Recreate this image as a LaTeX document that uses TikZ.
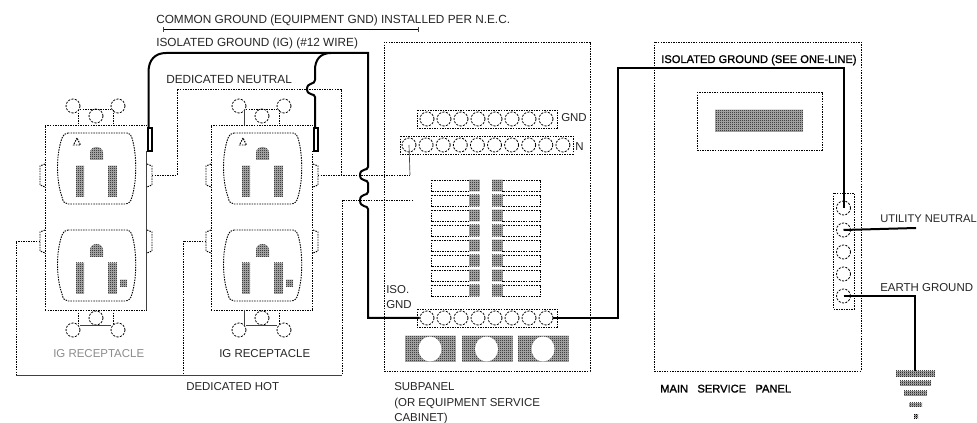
\documentclass[tikz,border=0pt]{standalone}
\usepackage{fontspec}
\setmainfont{Liberation Sans}
\newfontfamily\strongface[FakeBold=1.2]{Liberation Sans}
\usetikzlibrary{patterns}
\pgfdeclarepatternformonly{chk}{\pgfpointorigin}{\pgfqpoint{1.5pt}{1.5pt}}{\pgfqpoint{1.5pt}{1.5pt}}{%
  \pgfpathrectangle{\pgfpointorigin}{\pgfqpoint{.75pt}{.75pt}}%
  \pgfpathrectangle{\pgfqpoint{.75pt}{.75pt}}{\pgfqpoint{.75pt}{.75pt}}%
  \pgfusepath{fill}}
\tikzset{
  dot/.style={draw=black,line width=.7pt,dash pattern=on 1.1pt off .8pt},
  thin solid/.style={draw=black!75,line width=.5pt},
  wire/.style={draw=black,line width=1.5pt,line join=miter},
  hatch/.style={preaction={fill=black!28},pattern=chk,pattern color=black},
  lug/.style={circle,draw=black,line width=.6pt,dash pattern=on 1.6pt off 1pt,minimum size=10.5pt,inner sep=0pt,fill=white},
  sz/.style={font=\fontsize{#1}{10pt}\selectfont},
  lab/.style={anchor=base west,inner sep=0pt,sz=8.6pt,text=black!85},
  strong/.style={anchor=base west,inner sep=0pt,font=\strongface\fontsize{8.35pt}{10pt}\selectfont,text=black},
}
\newcommand{\faceoutline}{(68,133) -- (127,133) .. controls (130,133) and (131,135) .. (132,138) .. controls (137,155) and (137,180) .. (132,197) .. controls (131,202) and (128,204) .. (125,204) -- (68,204) .. controls (65,204) and (63,202) .. (62,197) .. controls (56,180) and (56,155) .. (62,138) .. controls (63,135) and (65,133) .. (68,133) -- cycle}
\newcommand{\faceholes}{%
  \fill[hatch] (90,160) -- (90,153) .. controls (90,145) and (103,145) .. (103,153) -- (103,160) -- cycle;
  \fill[hatch] (76,166) rectangle (84,197);
  \fill[hatch] (108,166) rectangle (117,197);
}
\newcommand{\recepbody}{%
  \draw[dot] (45,310) -- (45,125) -- (146.5,125);
  \draw[dot] (45,310) -- (146.5,310);
  \foreach \yy in {164,230} {
    \draw[dot] (45,\yy) -- (40,\yy+2) -- (40,\yy+21) -- (45,\yy+23);
    \draw[dot] (147,\yy) -- (152,\yy+2) -- (152,\yy+21) -- (147,\yy+23);
  }
  \draw[dot] \faceoutline;
  \faceholes
  \begin{scope}[yshift=-72.75pt]
    \draw[dot] \faceoutline;
    \faceholes
  \end{scope}
  \draw[dot] (77,138) -- (73.5,145) -- (80.5,145) -- cycle;
  \fill[hatch] (120,280) rectangle (127,287);
  \node[lug] at (73,106) {};
  \node[lug] at (118,106) {};
  \node[lug] at (96,116) {};
  \node[lug] at (73,330) {};
  \node[lug] at (118,330) {};
  \node[lug] at (96,318) {};
  \draw[dot] (80,109) -- (111,109);
  \draw[thin solid] (80,325) -- (111,325);
  \draw[dot] (113,110) -- (113,125);
  \draw[dot] (113,310) -- (113,325);
}
\begin{document}
\begin{tikzpicture}[x=.75pt,y=-.75pt]
\useasboundingbox (0,0) rectangle (977,423);
\fill[white] (0,0) rectangle (977,423);

% ---------- receptacles
\begin{scope}
  \recepbody
  \draw[dot] (78,110) -- (78,125);
  \draw[dot] (78,310) -- (78,325);
  \draw[thin solid] (146.5,151) -- (146.5,310);
\end{scope}
\begin{scope}[xshift=124.5pt]
  \recepbody
  \draw[thin solid] (78,110) -- (78,125);
  \draw[thin solid] (78,310) -- (78,325);
  \draw[dot] (146.5,151) -- (146.5,310);
\end{scope}

% ---------- subpanel
\draw[dot] (384,42) rectangle (590,371);
\draw[dot] (417,110) rectangle (557,128);
\draw[dot] (400,136) rectangle (573,154);
\draw[dot] (417,309) rectangle (557,327);
\foreach \i in {1,...,8} {
  \node[lug] (gnd\i) at ({427+17*(\i-1)},119) {};
  \node[lug] (iso\i) at ({427+17*(\i-1)},318) {};
}
\foreach \i in {1,...,10} {
  \node[lug] (neu\i) at ({409+17.1*(\i-1)},145) {};
}
\foreach \i in {0,...,7} {
  \pgfmathsetmacro{\yt}{180+15*\i}
  \pgfmathsetmacro{\yb}{\yt+11.5}
  \draw[dot] (431,\yt) rectangle (470,\yb);
  \fill[hatch] (469,\yt) rectangle (479.5,\yb);
  \draw[dot] (502,\yt) rectangle (540,\yb);
  \fill[hatch] (492,\yt) rectangle (502.5,\yb);
}
\foreach \xa/\xc in {405/430,462/486.5,518/543} {
  \fill[hatch] (\xa,336) rectangle (\xa+50.5,362);
  \fill[white] (\xc,349) ellipse[x radius=11.5,y radius=12.5];
}

% ---------- main service panel
\draw[dot] (654,42) rectangle (861,371);
\draw[dot] (697,92) rectangle (822,150);
\fill[hatch] (715,110) rectangle (803,132);
\draw[dot] (833,193) rectangle (854,309);
\foreach \i/\yy in {1/208,2/230,3/252,4/274,5/296} {
  \node[lug] (term\i) at (843.5,\yy) {};
}

% ---------- earth symbol
\fill[hatch] (896,371) rectangle (935,377);
\fill[hatch] (900,381) rectangle (931,386);
\fill[hatch] (904,391) rectangle (927,396);
\fill[hatch] (909,403) rectangle (922,407);
\fill[hatch] (914,414) rectangle (918,418);

% ---------- dotted circuit wiring
\coordinate (neuA) at (152,175);
\coordinate (neuB) at (318,175);
\coordinate (hotA) at (40,241);
\coordinate (hotB) at (206,241);
\draw[dot] (neuA) -- (177,175) -- (177,89) -- (341,89) -- (341,175);
\draw[dot] (neuB) -- (410,175);
\draw[thin solid] (410,175) -- (neu1.center);
\draw[dot] (413,200.5) -- (342,200.5) -- (342,375);
\draw[dot] (hotA) -- (16,241) -- (16,375);
\draw[dot] (hotB) -- (183,241) -- (183,375);
\draw[thin solid] (16,375) -- (342,375);
\coordinate (cgA) at (163,29.5);
\coordinate (cgB) at (418,29.5);
\draw[draw=black,line width=.9pt] (cgA) -- (cgB);
\draw[thin solid] (163,27) -- (163,32);
\draw[thin solid] (418,27) -- (418,32);

% ---------- isolated ground wiring
\draw[wire] (147.5,128) rectangle (151.5,151);
\draw[wire] (313.5,128) rectangle (317.5,151);
\coordinate (tabA) at (148.5,128);
\coordinate (tabB) at (315,128);
\draw[wire] (tabA) -- (148.5,72) .. controls (148.5,60) and (155,53) .. (166,53) -- (368,53)
  -- (368,167) .. controls (368,171) and (360,168) .. (360,175) .. controls (360,182) and (368,179) .. (368,183)
  -- (368,192) .. controls (368,196) and (360,193) .. (360,200.5) .. controls (360,208) and (368,205) .. (368,209)
  -- (368,318) -- (iso1.west);
\draw[wire] (tabB) -- (315,97) .. controls (315,93) and (307,96) .. (307,89) .. controls (307,82) and (315,85) .. (315,80)
  -- (315,70) .. controls (315,60) and (320,53) .. (331,53);
\draw[wire] (iso8.east) -- (618,318) -- (618,68) -- (843.5,68) -- (term1.center);
\draw[wire] (term2.center) -- (916,228);
\draw[wire] (term5.center) -- (915,296) -- (915,371);

% ---------- labels
\node[lab,sz=8.85pt] (tCommon) at (156,23.3) {COMMON GROUND (EQUIPMENT GND) INSTALLED PER N.E.C.};
\node[lab,sz=8.85pt] (tIso) at (156,46.5) {ISOLATED GROUND (IG) (\#12 WIRE)};
\node[lab,sz=8.85pt] (tNeu) at (166,84) {DEDICATED NEUTRAL};
\node[lab] (tHot) at (186,391) {DEDICATED HOT};
\node[lab,text=black!45] (tRecA) at (53,357.5) {IG RECEPTACLE};
\node[lab] (tRecB) at (219,357.5) {IG RECEPTACLE};
\node[lab] (tGnd) at (561,121.7) {GND};
\node[lab] (tN) at (575,150.5) {N};
\node[lab] (tIsoA) at (386,294) {ISO.};
\node[lab] (tIsoB) at (386,309) {GND};
\node[lab] (tSubA) at (394,390.5) {SUBPANEL};
\node[lab] (tSubB) at (394,406.5) {(OR EQUIPMENT SERVICE};
\node[lab] (tSubC) at (394,421.7) {CABINET)};
\node[lab,sz=8.35pt] (tUtil) at (880,222.5) {UTILITY NEUTRAL};
\node[lab] (tEarth) at (880,292) {EARTH GROUND};
\node[strong] (tIsoMain) at (661,63) {ISOLATED GROUND (SEE ONE-LINE)};
\node[strong] (tMain) at (660,392.5) {MAIN\hspace{7pt}SERVICE\hspace{7pt}PANEL};
\end{tikzpicture}
\end{document}
